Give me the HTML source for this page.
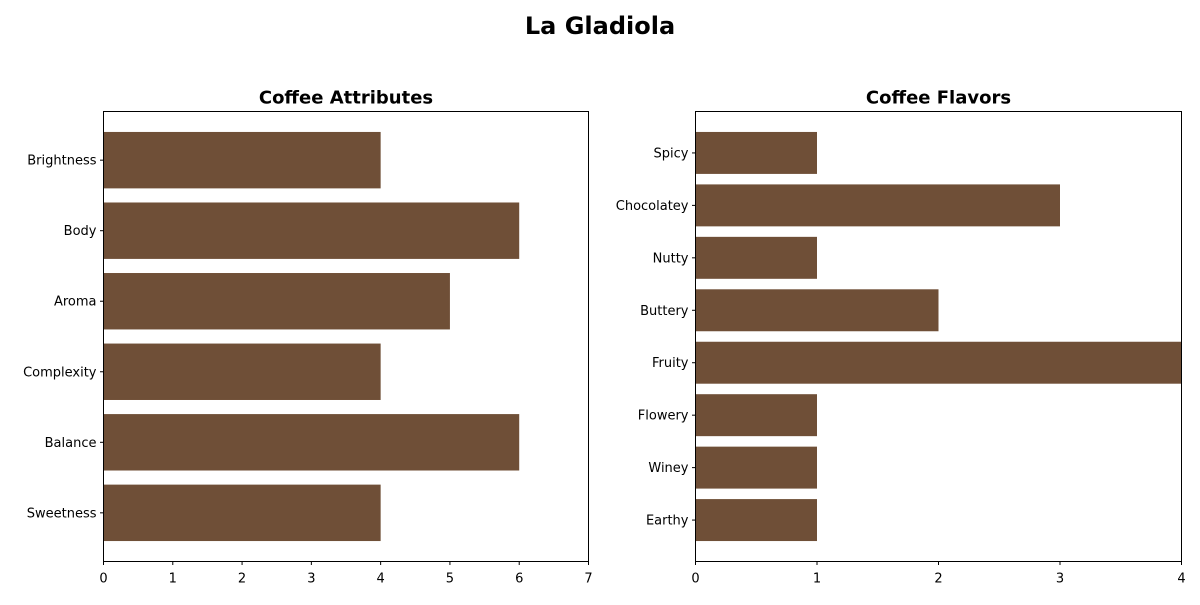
<!DOCTYPE html>
<html><head><meta charset="utf-8"><style>
body{margin:0;background:#fff;font-family:"Liberation Sans","DejaVu Sans",sans-serif;}
svg text{font-family:"DejaVu Sans","Liberation Sans",sans-serif;}
</style></head><body>
<svg id="chart" width="1200" height="600" xmlns="http://www.w3.org/2000/svg">
<text x="600" y="34" text-anchor="middle" font-size="24" font-weight="bold">La Gladiola</text>
</svg>
<script>
const attrCategories = ["Sweetness","Balance","Complexity","Aroma","Body","Brightness"];
const attrValues = [4,6,4,5,6,4];
const attrTicks = [0,1,2,3,4,5,6,7];
const flavorCategories = ["Earthy","Winey","Flowery","Fruity","Buttery","Nutty","Chocolatey","Spicy"];
const flavorValues = [1,1,1,4,2,1,3,1];
const flavorTicks = [0,1,2,3,4];

const svg = document.getElementById('chart');
const NS = "http://www.w3.org/2000/svg";
function mk(tag, attrs, parent){const e=document.createElementNS(NS,tag);for(const k in attrs)e.setAttribute(k,attrs[k]);(parent||svg).appendChild(e);return e;}

function panel(name, title, cats, vals, ticks, left, right, top, bottom){
  const g = mk('g',{});
  
  
  const xmax = ticks[ticks.length-1];
  const x = v => left + (v/xmax)*(right-left);
  const n = cats.length;
  const lo = -0.4 - 0.05*(n-1+0.8), hi = n-1+0.4 + 0.05*(n-1+0.8);
  const y = v => bottom - (v-lo)/(hi-lo)*(bottom-top);
  const bh = 0.8*(bottom-top)/(hi-lo);
  cats.forEach((c,i)=>{
    const r = mk('rect',{x:x(0),y:y(i)-bh/2,width:x(vals[i])-x(0),height:bh,fill:'#6F4F37'},g);
    
    
    mk('line',{x1:left-3.5,x2:left,y1:y(i),y2:y(i),stroke:'#000','stroke-width':1},g);
    const t = mk('text',{x:left-7,y:y(i)+4.5,'text-anchor':'end','font-size':13},g);
    t.textContent = c;
    
    
  });
  ticks.forEach(tv=>{
    mk('line',{x1:x(tv),x2:x(tv),y1:bottom,y2:bottom+3.5,stroke:'#000','stroke-width':1},g);
    const t = mk('text',{x:x(tv),y:bottom+21,'text-anchor':'middle','font-size':13},g);
    t.textContent = tv;
    
    
  });
  const fr = mk('rect',{x:left,y:top,width:right-left,height:bottom-top,fill:'none',stroke:'#000','stroke-width':1},g);
  
  
  const tt = mk('text',{x:(left+right)/2,y:top-8,'text-anchor':'middle','font-size':18,'font-weight':'bold'},g);
  tt.textContent = title;
  
  
}
panel('attributes-panel','Coffee Attributes',attrCategories,attrValues,attrTicks,103.5,588.5,111.5,561.5);
panel('flavors-panel','Coffee Flavors',flavorCategories,flavorValues,flavorTicks,695.5,1181.5,111.5,561.5);
</script>
</body></html>
